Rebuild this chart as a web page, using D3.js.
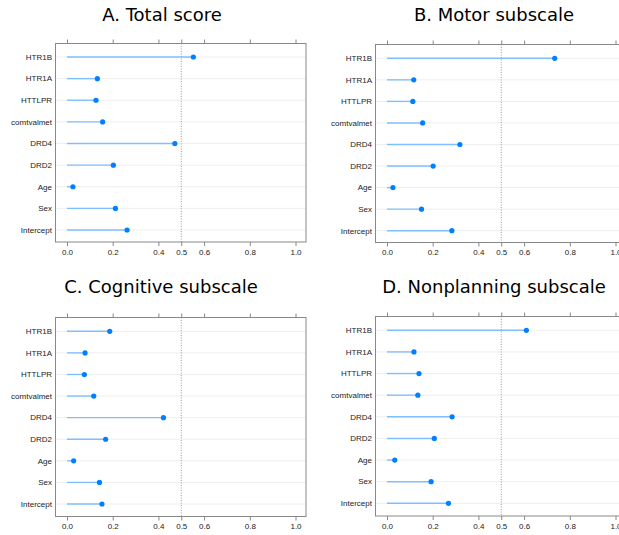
<!DOCTYPE html>
<html><head><meta charset="utf-8">
<script src="https://cdn.jsdelivr.net/npm/d3@7/dist/d3.min.js"></script>
<style>body{margin:0;background:#fff}svg{display:block}</style>
</head><body>
<svg id="c" width="619" height="535"></svg>
<script>
const categories = ["HTR1B","HTR1A","HTTLPR","comtvalmet","DRD4","DRD2","Age","Sex","Intercept"];
const titles = ["A. Total score","B. Motor subscale","C. Cognitive subscale","D. Nonplanning subscale"];
const totalScore     = [0.553,0.133,0.127,0.156,0.472,0.203,0.026,0.212,0.263];
const motorScore     = [0.734,0.117,0.113,0.156,0.319,0.202,0.026,0.151,0.284];
const cognitiveScore = [0.187,0.079,0.076,0.117,0.422,0.169,0.029,0.142,0.153];
const nonplanScore   = [0.610,0.118,0.140,0.135,0.285,0.207,0.034,0.193,0.269];
const tickValues = [0.0,0.2,0.4,0.5,0.6,0.8,1.0];
const refLine = 0.5;

const series = [totalScore, motorScore, cognitiveScore, nonplanScore];
const layout = [
  {bl:55.5, x0:67, x1:295.5, br:306, bt:43.5, bb:242, y0:57, y1:230, tx:162, ty:21},
  {bl:375.5, x0:387, x1:615.5, br:627, bt:44.5, bb:242.5, y0:58.3, y1:230.7, tx:494, ty:21},
  {bl:55.5, x0:67, x1:295.5, br:306, bt:317.5, bb:516.5, y0:331.3, y1:504, tx:161, ty:292.5},
  {bl:375.5, x0:387, x1:615.5, br:627, bt:316.5, bb:516, y0:330.3, y1:503.3, tx:494, ty:292.5}
];
const svg = d3.select("#c");
series.forEach((vals,i)=>{
  const L = layout[i];
  const g = svg.append("g");
  const x = d3.scaleLinear().domain([0,1]).range([L.x0,L.x1]);
  const y = d3.scalePoint().domain(categories).range([L.y0,L.y1]);
  g.append("text").attr("x",L.tx).attr("y",L.ty).attr("text-anchor","middle")
    .attr("font-family","DejaVu Sans").attr("font-size",18).attr("fill","#000").text(titles[i]);
  // grid lines
  g.selectAll("line.grid").data(categories).join("line").attr("class","grid")
    .attr("x1",L.bl).attr("x2",L.br).attr("y1",d=>y(d)).attr("y2",d=>y(d))
    .attr("stroke","#eeeeee").attr("stroke-width",1);
  // reference line
  g.append("line").attr("x1",x(refLine)).attr("x2",x(refLine)).attr("y1",L.bt).attr("y2",L.bb)
    .attr("stroke","#999").attr("stroke-width",1).attr("stroke-dasharray","1,1.5");
  // lollipop lines
  g.selectAll("line.stem").data(vals).join("line").attr("class","stem")
    .attr("x1",x(0)).attr("x2",d=>x(d)).attr("y1",(d,j)=>y(categories[j])).attr("y2",(d,j)=>y(categories[j]))
    .attr("stroke","#80bfff").attr("stroke-width",1.4);
  g.selectAll("circle").data(vals).join("circle")
    .attr("cx",d=>x(d)).attr("cy",(d,j)=>y(categories[j])).attr("r",2.6).attr("fill","#0080ff");
  // box
  g.append("rect").attr("x",L.bl).attr("y",L.bt).attr("width",L.br-L.bl).attr("height",L.bb-L.bt)
    .attr("fill","none").attr("stroke","#888").attr("stroke-width",1);
  // y labels
  g.selectAll("text.yl").data(categories).join("text").attr("class","yl")
    .attr("x",L.bl-3.5).attr("y",d=>y(d)).attr("dy","0.35em").attr("text-anchor","end")
    .attr("font-family","Liberation Sans, Arial").attr("font-size",8).attr("fill","#222").text(d=>d);
  // axes
  const ab = d3.axisBottom(x).tickValues(tickValues).tickFormat(d3.format(".1f")).tickSize(4).tickPadding(3);
  const at = d3.axisTop(x).tickValues(tickValues).tickFormat("").tickSize(4);
  const gb = g.append("g").attr("transform",`translate(0,${L.bb})`).call(ab);
  const gt = g.append("g").attr("transform",`translate(0,${L.bt})`).call(at);
  [gb,gt].forEach(a=>{
    a.select(".domain").remove();
    a.selectAll("line").attr("stroke","#888");
    a.selectAll("text").attr("font-family","Liberation Sans, Arial").attr("font-size",8).attr("fill","#222");
  });
});
</script>
</body></html>
